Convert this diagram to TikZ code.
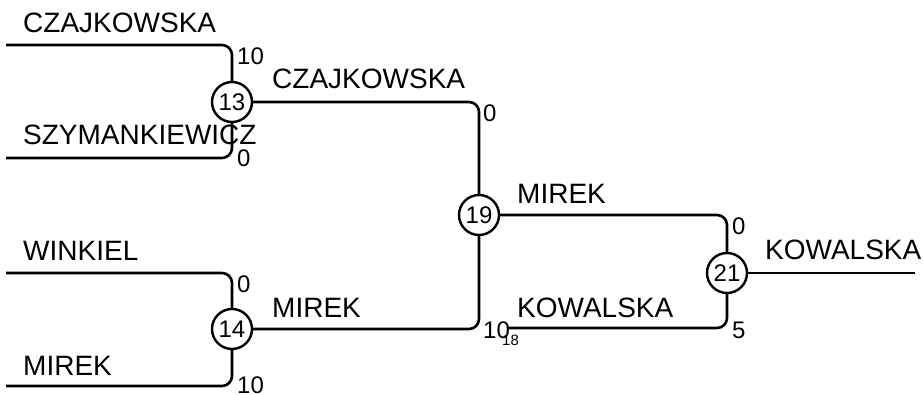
\documentclass[tikz,border=0pt]{standalone}
\usepackage{fontspec}
\setmainfont{Liberation Sans}
\tikzset{
	player/.style={anchor=base west, inner sep=0pt, font=\fontsize{28}{30}\selectfont},
	score/.style={anchor=base west, inner sep=0pt, font=\fontsize{24}{26}\selectfont},
	match/.style={draw, circle, line width=2.4pt, minimum size=40pt, inner sep=0pt, font=\fontsize{24}{26}\selectfont},
	bracket/.style={line width=2.6pt, rounded corners=10pt}
}
\begin{document}
\begin{tikzpicture}[x=1pt,y=-1pt]
			\useasboundingbox (0,0) rectangle (923,395);
			\node	(c13) at (232,102) [match] {13};
			\node	(c14) at (232,329) [match] {14};
			\node	(c19) at (479,215) [match] {19};
			\node	(c21) at (727,273) [match] {21};
			\coordinate (a1) at (6,45);
			\coordinate (a2) at (6,158);
			\coordinate (a3) at (6,273);
			\coordinate (a4) at (6,386);
			\coordinate (k1) at (508,328);
			\coordinate (k2) at (915,273);
			\draw[bracket]
			(a1) -| (c13)
			(a2) -| (c13)
			(a3) -| (c14)
			(a4) -| (c14)
			(c13) -| (c19)
			(c14) -| (c19)
			(c19) -| (c21)
			(k1) -| (c21)
			;
			\draw[line width=2.6pt] (c21) -- (k2);
			% names
			\node	(p1) at (23,33) [player] {CZAJKOWSKA};
			\node	(p2) at (23,145) [player] {SZYMANKIEWICZ};
			\node	(p3) at (23,261) [player] {WINKIEL};
			\node	(p4) at (23,375) [player] {MIREK};
			\node	(p5) at (272,89) [player] {CZAJKOWSKA};
			\node	(p6) at (272,317) [player] {MIREK};
			\node	(p7) at (517,204) [player] {MIREK};
			\node	(p8) at (517,317) [player] {KOWALSKA};
			\node	(p9) at (765,260) [player] {KOWALSKA};
			% scores
			\node	(s1) at (237,65) [score] {10};
			\node	(s2) at (237,167) [score] {0};
			\node	(s3) at (237,292) [score] {0};
			\node	(s4) at (237,393) [score] {10};
			\node	(s5) at (483,122) [score] {0};
			\node	(s6) at (483,338) [score] {10};
			\node	(s7) at (732,235) [score] {0};
			\node	(s8) at (732,338) [score] {5};
			\node	(n18) at (502,345) [anchor=base west, inner sep=0pt, font=\fontsize{15}{16}\selectfont] {18};
\end{tikzpicture}
\end{document}
